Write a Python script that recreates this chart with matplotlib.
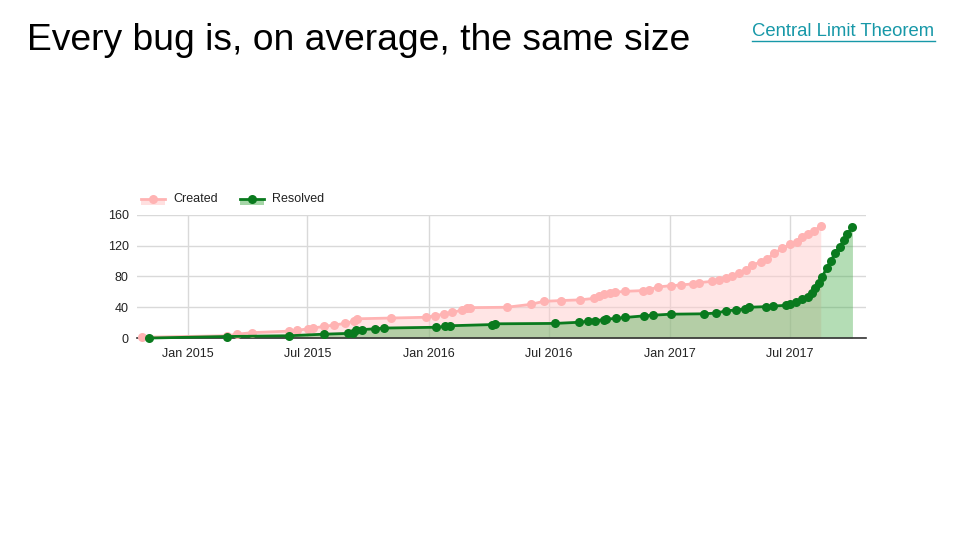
import matplotlib
matplotlib.use("Agg")
import matplotlib.pyplot as plt
import matplotlib.dates as mdates
import numpy as np
import pandas as pd

plt.rcParams['font.family'] = ['Liberation Sans', 'DejaVu Sans']

title = "Every bug is, on average, the same size"
link_text = "Central Limit Theorem"

created_dates = [
    "2014-10-23", "2015-03-02", "2015-03-17", "2015-04-08", "2015-06-04", "2015-06-16",
    "2015-07-02", "2015-07-09", "2015-07-26", "2015-08-11", "2015-08-27", "2015-09-10",
    "2015-09-14", "2015-11-05", "2015-12-28", "2016-01-10", "2016-01-24", "2016-02-05",
    "2016-02-20", "2016-02-28", "2016-03-03", "2016-04-28", "2016-06-04", "2016-06-23",
    "2016-07-19", "2016-08-17", "2016-09-07", "2016-09-15", "2016-09-22", "2016-10-01",
    "2016-10-09", "2016-10-25", "2016-11-21", "2016-11-30", "2016-12-14", "2017-01-02",
    "2017-01-18", "2017-02-05", "2017-02-14", "2017-03-05", "2017-03-16", "2017-03-26",
    "2017-04-05", "2017-04-15", "2017-04-25", "2017-05-05", "2017-05-18", "2017-05-28",
    "2017-06-07", "2017-06-20", "2017-07-02", "2017-07-12", "2017-07-20", "2017-07-28",
    "2017-08-07", "2017-08-17",
]
created_values = [
    1, 3, 5, 7, 9, 10,
    12, 13, 15, 17, 19, 22,
    25, 26, 27, 29, 31, 33.5,
    36, 38.6, 39.5, 40, 43.8, 47.7,
    48.7, 49.6, 51.5, 54, 57, 58.5,
    59.6, 60.7, 61.7, 62.8, 66.5, 68,
    69, 70.5, 72, 73.7, 75.4, 78,
    80.6, 84, 88.4, 94.4, 99, 102.7,
    110, 116.6, 122, 125, 131.7, 135,
    139.5, 145.6,
]

resolved_dates = [
    "2014-11-03", "2015-03-02", "2015-06-04", "2015-07-26", "2015-08-31", "2015-09-09",
    "2015-09-13", "2015-09-22", "2015-10-12", "2015-10-26", "2016-01-12", "2016-01-26",
    "2016-02-03", "2016-04-06", "2016-04-11", "2016-07-10", "2016-08-16", "2016-08-30",
    "2016-09-09", "2016-09-23", "2016-09-26", "2016-10-11", "2016-10-24", "2016-11-22",
    "2016-12-06", "2017-01-02", "2017-02-21", "2017-03-12", "2017-03-27", "2017-04-11",
    "2017-04-24", "2017-04-30", "2017-05-26", "2017-06-06", "2017-06-25", "2017-07-02",
    "2017-07-10", "2017-07-20", "2017-07-28", "2017-08-03", "2017-08-09", "2017-08-14",
    "2017-08-19", "2017-08-26", "2017-09-01", "2017-09-08", "2017-09-15", "2017-09-21",
    "2017-09-26", "2017-10-04",
]
resolved_values = [
    0, 2, 3, 5, 6, 7,
    10, 11, 12, 13, 14, 15,
    16, 17.5, 18.5, 19, 20.5, 21.8,
    22.7, 23.8, 24.6, 25.6, 26.7, 28.8,
    29.7, 31, 31.5, 32.5, 35.5, 36.4,
    38, 40, 40.8, 41.6, 42.5, 44.2,
    46.8, 50.3, 53.7, 58, 64.6, 71,
    79.7, 90.6, 100.5, 110, 118.7, 127.4,
    135, 144,
]

y_ticks = [0, 40, 80, 120, 160]
x_tick_dates = ["2015-01-01", "2015-07-01", "2016-01-01", "2016-07-01", "2017-01-01", "2017-07-01"]
x_tick_labels = ["Jan 2015", "Jul 2015", "Jan 2016", "Jul 2016", "Jan 2017", "Jul 2017"]
x_range = ["2014-10-16", "2017-10-24"]

created_color = "#ffb3b3"
resolved_color = "#0a7a1e"

cd = pd.to_datetime(created_dates)
rd = pd.to_datetime(resolved_dates)

fig = plt.figure(figsize=(9.6, 5.4), dpi=100)
ax = fig.add_axes([0.1427, 0.374, 0.759, 0.228])

ax.fill_between(cd, 0, created_values, color="#ffcccc", alpha=0.5, linewidth=0, zorder=1)
ax.fill_between(rd, 0, resolved_values, color="#4caf50", alpha=0.42, linewidth=0, zorder=2)
ax.plot(cd, created_values, color=created_color, lw=2, marker="o", ms=6.5,
        markeredgewidth=0, clip_on=False, zorder=4)
ax.plot(rd, resolved_values, color=resolved_color, lw=2, marker="o", ms=6.5,
        markeredgewidth=0, clip_on=False, zorder=5)

ax.set_ylim(0, 160)
ax.set_yticks(y_ticks)
ax.set_xlim(pd.to_datetime(x_range[0]), pd.to_datetime(x_range[1]))
ax.set_xticks(pd.to_datetime(x_tick_dates))
ax.set_xticklabels(x_tick_labels)
ax.grid(True, color="#d9d9d9", lw=1)
ax.set_axisbelow(True)
for s in ["top", "right", "left"]:
    ax.spines[s].set_visible(False)
ax.spines["bottom"].set_color("#333333")
ax.spines["bottom"].set_linewidth(1.2)
ax.spines["bottom"].set_zorder(3)
ax.tick_params(axis="both", length=0, labelsize=9, labelcolor="#222222")
ax.tick_params(axis="y", pad=6)
ax.tick_params(axis="x", pad=7)

# legend
def legend_item(x0, color, fillc, label):
    lx = [x0 / 960, (x0 + 24) / 960]
    ly = 1 - 199 / 540
    fig.patches.append(plt.Rectangle((x0 / 960, 1 - 205 / 540), 24 / 960, 6 / 540,
                                     transform=fig.transFigure, color=fillc, lw=0))
    fig.lines.append(plt.Line2D(lx, [ly, ly], transform=fig.transFigure, color=color, lw=2))
    fig.lines.append(plt.Line2D([(x0 + 12) / 960], [ly], transform=fig.transFigure,
                                color=color, marker="o", ms=6.5, mew=0))
    fig.text((x0 + 32) / 960, ly, label, fontsize=9, color="#222222", va="center", ha="left")

legend_item(141, created_color, "#ffe0e0", "Created")
legend_item(240, resolved_color, "#a5d6a7", "Resolved")

fig.text(27 / 960, 1 - 40 / 540, title, fontsize=26.8, color="black", va="center", ha="left")
fig.text(752 / 960, 1 - 32 / 540, link_text, fontsize=13.3, color="#1798a8",
         va="center", ha="left")
fig.lines.append(plt.Line2D([752 / 960, 935 / 960], [1 - 40.5 / 540, 1 - 40.5 / 540],
                            transform=fig.transFigure, color="#1798a8", lw=1))

fig.savefig("out.png", dpi=100)
